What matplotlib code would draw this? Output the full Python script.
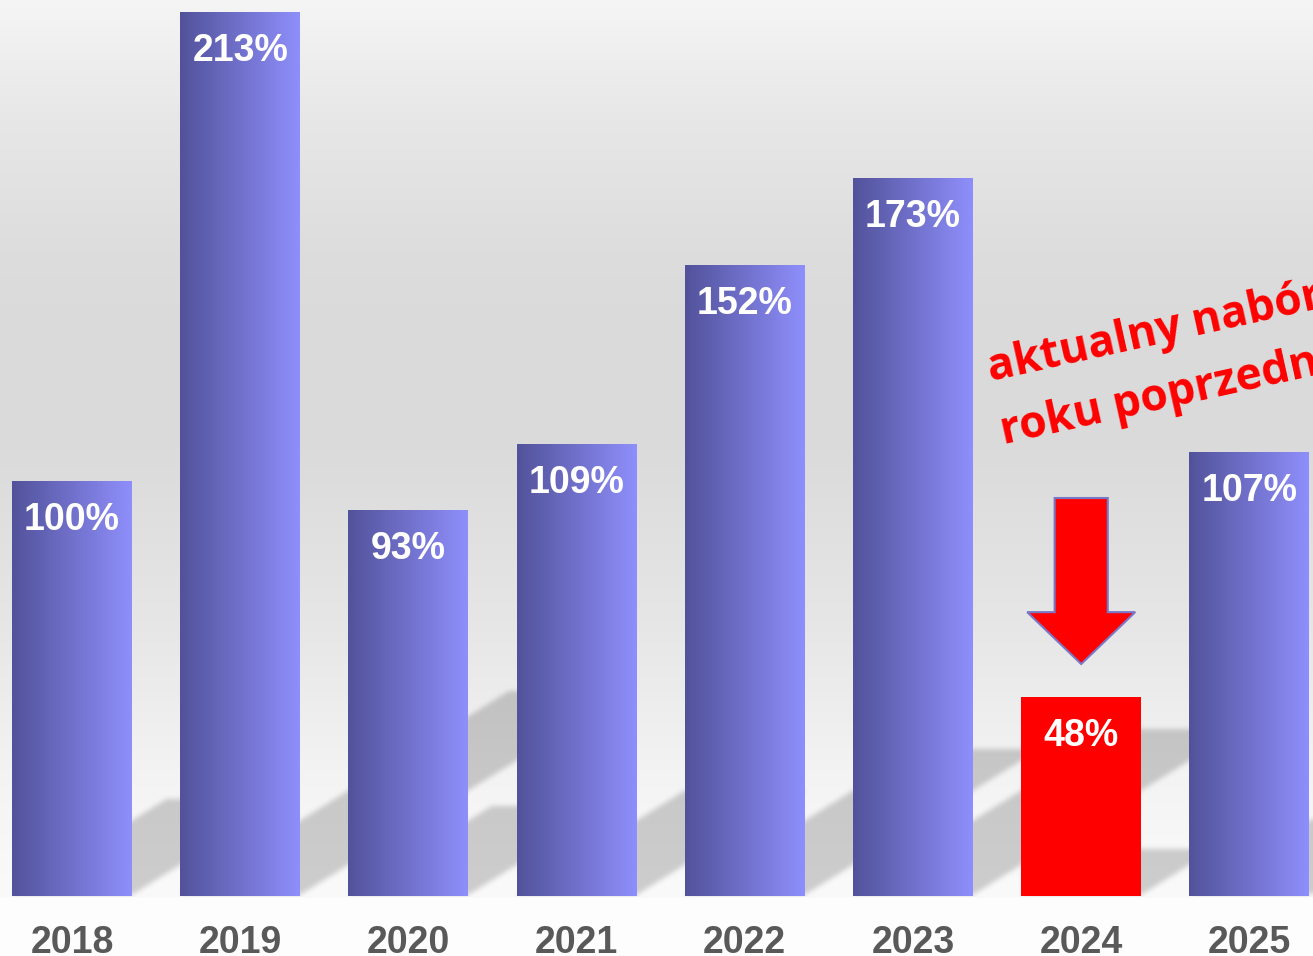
import numpy as np
import matplotlib
matplotlib.use("Agg")
import matplotlib.pyplot as plt
from matplotlib.patches import Polygon

# chart data
years = ["2018", "2019", "2020", "2021", "2022", "2023", "2024", "2025"]
values = [100, 213, 93, 109, 152, 173, 48, 107]
highlight = "2024"
note_lines = ["aktualny nabór w stosunku do", "roku poprzedniego"]

W, H, DPI = 1313, 956, 100
PITCH = 168.2      # px between bar centres
PX_PER_PCT = 4.15  # px per percent
BASE_PX = 896      # baseline, px from top
BAR_W = 0.713

fig = plt.figure(figsize=(W / DPI, H / DPI), dpi=DPI)
bg_ax = fig.add_axes([0, 0, 1, 1], zorder=0)
ax = fig.add_axes([0, (H - BASE_PX) / H, 1, BASE_PX / H], zorder=1)
ax.set_axis_off()
bg_ax.set_axis_off()

xs = np.arange(len(years))
xlim = (-72 / PITCH, (W - 72) / PITCH)
ylim = (0, BASE_PX / PX_PER_PCT)
ax.set_xlim(*xlim)
ax.set_ylim(*ylim)

# ── background gradient + floor shadows ──
rows = np.arange(H)
stop_y = [0, 120, 250, 330, 450, 560, 620, 770, 850, 897]
stop_v = [245, 231, 221, 218, 219, 226, 230, 243, 248, 250]
gray = np.interp(rows, stop_y, stop_v)
gray[898:] = 253

PX, PY = np.meshgrid(np.arange(W), rows)
mask = np.zeros((H, W))
slope, k = 0.62, 0.23
for x, v in zip(xs, values):
    (x0, y0), (x1, y1) = ax.transData.transform([(x - BAR_W / 2, 0), (x + BAR_W / 2, v)])
    base_row = H - y0 - 2
    hpx = y1 - y0
    t = base_row - PY
    inside = (t >= 0) & (t <= k * hpx) & (PX >= x0 + t / slope) & (PX <= x1 + t / slope)
    mask = np.maximum(mask, inside.astype(float))


def box_blur(a, r):
    for axis in (0, 1):
        pad = [(0, 0), (0, 0)]
        pad[axis] = (r + 1, r)
        c = np.cumsum(np.pad(a, pad, mode="edge"), axis=axis)
        if axis == 0:
            a = (c[2 * r + 1:] - c[:-2 * r - 1]) / (2 * r + 1)
        else:
            a = (c[:, 2 * r + 1:] - c[:, :-2 * r - 1]) / (2 * r + 1)
    return a


for _ in range(3):
    mask = box_blur(mask, 2)
mask[897:] = 0

lum = gray[:, None] * (1 - 0.18 * mask) / 255.0
bg = np.dstack([lum, lum, lum])
bg_ax.imshow(bg, aspect="auto", interpolation="nearest")

# ── bars ──
left_c = np.array([82, 82, 155]) / 255
right_c = np.array([143, 143, 252]) / 255
g = np.linspace(0, 1, 256)[:, None]
grad = (left_c * (1 - g) + right_c * g)[None, :, :]

bars = ax.bar(xs, values, width=BAR_W, linewidth=0, zorder=2,
              color=["#ff0000" if y == highlight else "none" for y in years])
for bar, y in zip(bars, years):
    if y == highlight:
        continue
    x0, h = bar.get_x(), bar.get_height()
    im = ax.imshow(grad, extent=[x0, x0 + bar.get_width(), 0, h], aspect="auto",
                   interpolation="bilinear", zorder=2)
    im.set_clip_path(bar)

for x, v, y in zip(xs, values, years):
    ax.text(x, v - 11.8, f"{v}%", ha="center", va="baseline", color="white",
            fontsize=27, fontweight="bold", family="Liberation Sans", zorder=4)
    ax.text(x, -13.7, y, ha="center", va="baseline", color="#595959",
            fontsize=27, fontweight="bold", family="Liberation Sans", zorder=4)

# ── annotation: arrow + rotated note ──
cx = xs[years.index(highlight)]
arrow = Polygon([(cx - 0.158, 95.9), (cx + 0.158, 95.9), (cx + 0.158, 68.4),
                 (cx + 0.321, 68.4), (cx, 55.9), (cx - 0.321, 68.4),
                 (cx - 0.158, 68.4)], closed=True, facecolor="#ff0000",
                edgecolor="#7878c8", linewidth=1.5, zorder=3)
ax.add_patch(arrow)

ax.text(cx - 0.540, 124.0, note_lines[0], rotation=12.5, rotation_mode="anchor",
        ha="left", va="baseline", color="#ff0000", fontsize=32,
        fontweight="bold", family="Open Sans", zorder=4)
ax.text(cx - 0.463, 108.8, note_lines[1], rotation=12.5, rotation_mode="anchor",
        ha="left", va="baseline", color="#ff0000", fontsize=32,
        fontweight="bold", family="Open Sans", zorder=4)

ax.set_xlim(*xlim)
ax.set_ylim(*ylim)
fig.savefig("out.png", dpi=DPI)
